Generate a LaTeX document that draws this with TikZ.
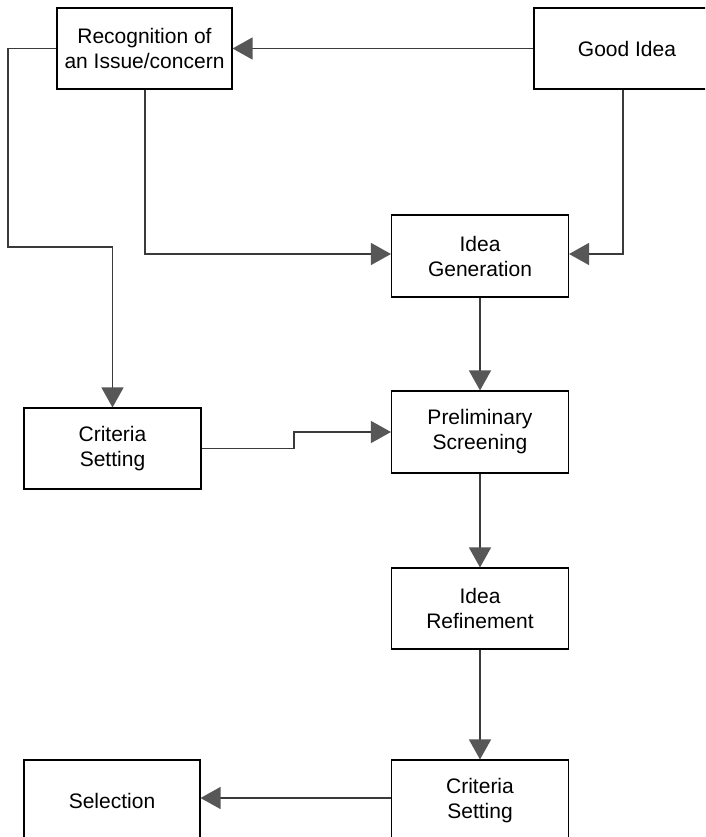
\documentclass[tikz,border=0pt]{standalone}
\usepackage{fontspec}
\setmainfont{Liberation Sans}
\usetikzlibrary{arrows.meta}
\definecolor{linegray}{HTML}{3A3A3A}
\definecolor{tipgray}{HTML}{575757}
\tikzset{
  stagebox/.style={draw=black, line width=1.1pt, fill=white, align=center,
    minimum width=177pt, minimum height=81pt, inner sep=0pt,
    font=\fontsize{21}{25}\selectfont},
  flow/.style={draw=linegray, line width=1.3pt,
    -{Triangle[length=20pt,width=22pt,fill=tipgray,color=tipgray]}},
}
\begin{document}
\begin{tikzpicture}[x=1pt,y=-1pt]
  \clip (0,0) rectangle (705,837);
  \fill[white] (0,0) rectangle (705,837);

  % stages
  \node[stagebox, minimum width=175pt] (rec) at (144.5,48.5) {Recognition of\\an Issue/concern};
  \node[stagebox, minimum width=186pt] (good) at (627,48.5) {Good Idea};
  \node[stagebox, minimum height=82pt] (gen) at (480,256) {Idea\\Generation};
  \node[stagebox] (crit1) at (112.5,448.5) {Criteria\\Setting};
  \node[stagebox, minimum height=82pt] (pre) at (480,432) {Preliminary\\Screening};
  \node[stagebox] (ref) at (480,608.5) {Idea\\Refinement};
  \node[stagebox] (crit2) at (480,800.5) {Criteria\\Setting};
  \node[stagebox, minimum width=176pt] (sel) at (112,800.5) {Selection};

  % connectors
  \coordinate (l1) at (8,48.5);
  \coordinate (l2) at (8,247);
  \coordinate (l3) at (112.5,247);
  \coordinate (r1) at (145,254);
  \coordinate (g1) at (623,254);
  \coordinate (s1) at (294,448.5);
  \coordinate (s2) at (294,432);

  \draw[flow] (good.west) -- (rec.east);
  \draw[flow] (rec.west) -- (l1) -- (l2) -- (l3) -- (crit1.north);
  \draw[flow] (rec.south -| r1) -- (r1) -- (r1 -| gen.west);
  \draw[flow] (good.south -| g1) -- (g1) -- (g1 -| gen.east);
  \draw[flow] (gen.south) -- (pre.north);
  \draw[flow] (crit1.east) -- (s1) -- (s2) -- (pre.west);
  \draw[flow] (pre.south) -- (ref.north);
  \draw[flow] (ref.south) -- (crit2.north);
  \draw[flow] (crit2.west |- 0,798) -- (sel.east |- 0,798);
\end{tikzpicture}
\end{document}
